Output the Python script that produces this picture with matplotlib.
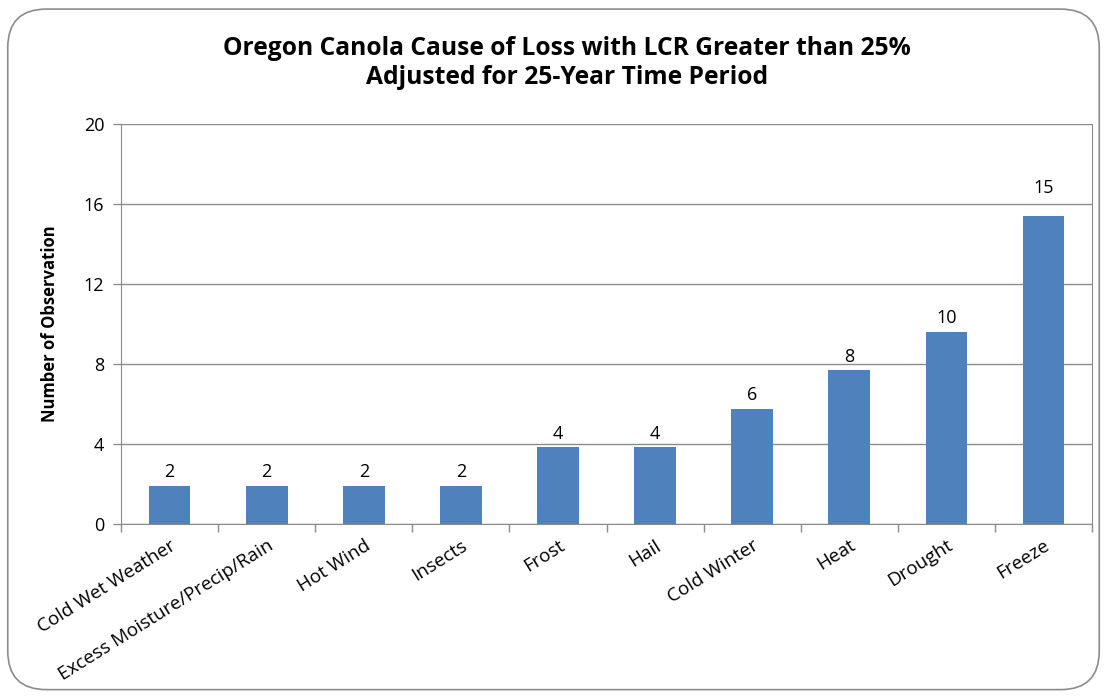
import matplotlib
matplotlib.use("Agg")
import matplotlib.pyplot as plt
from matplotlib.patches import FancyBboxPatch

categories = ["Cold Wet Weather", "Excess Moisture/Precip/Rain", "Hot Wind", "Insects",
              "Frost", "Hail", "Cold Winter", "Heat", "Drought", "Freeze"]
values = [1.92, 1.92, 1.92, 1.92, 3.85, 3.85, 5.77, 7.69, 9.62, 15.38]
labels = ["2", "2", "2", "2", "4", "4", "6", "8", "10", "15"]
yticks = [0, 4, 8, 12, 16, 20]

plt.rcParams['font.family'] = ['Open Sans', 'DejaVu Sans']

fig = plt.figure(figsize=(11.07, 6.98), dpi=100)
frame = FancyBboxPatch((0.007, 0.012), 0.986, 0.975, boxstyle="round,pad=0,rounding_size=0.035",
                       transform=fig.transFigure, facecolor='none', edgecolor='#8c8c8c',
                       linewidth=1.2, mutation_aspect=1107/698, zorder=-1)
fig.patches.append(frame)

ax = fig.add_axes([0.1093, 0.2493, 0.8772, 0.5730])
ax.set_facecolor('none')
x = list(range(len(categories)))
ax.bar(x, values, width=0.43, color='#4f81bd', zorder=3)
vmax = max(values)
for xi, v, lab in zip(x, values, labels):
    off = 14 if v == vmax else 3  # top label sits above the 16 gridline in the original
    ax.annotate(lab, (xi, v), xytext=(0, off), textcoords='offset points',
                ha='center', va='bottom', fontsize=13, color='black')

ax.set_xlim(-0.5, len(categories) - 0.5)
ax.set_ylim(0, 20)
ax.set_yticks(yticks)
ax.set_yticklabels([str(t) for t in yticks], fontsize=13)
ax.yaxis.grid(True, color='#8c8c8c', linewidth=1, zorder=0)
ax.set_axisbelow(True)
ax.set_xticks(x)
ax.set_xticklabels(categories, rotation=32, ha='right', rotation_mode='anchor', fontsize=13.6)
ax.tick_params(axis='x', length=0, pad=9)
ax.set_xticks([i - 0.5 for i in range(len(categories) + 1)], minor=True)
ax.tick_params(axis='x', which='minor', length=6, color='#8c8c8c', width=1)
ax.tick_params(axis='y', length=6, color='#8c8c8c', width=1, pad=6)
ax.spines['top'].set_visible(False)
ax.spines['right'].set_color('#8c8c8c')
ax.spines['left'].set_color('#8c8c8c')
ax.spines['bottom'].set_color('#8c8c8c')

ax.set_ylabel("Number of Observation", fontsize=12, fontweight='bold', labelpad=18)
fig.text(0.512, 0.910, "Oregon Canola Cause of Loss with LCR Greater than 25%\nAdjusted for 25-Year Time Period",
         ha='center', va='center', fontsize=17.7, fontweight='bold', linespacing=1.2)

fig.savefig("out.png", dpi=100)
